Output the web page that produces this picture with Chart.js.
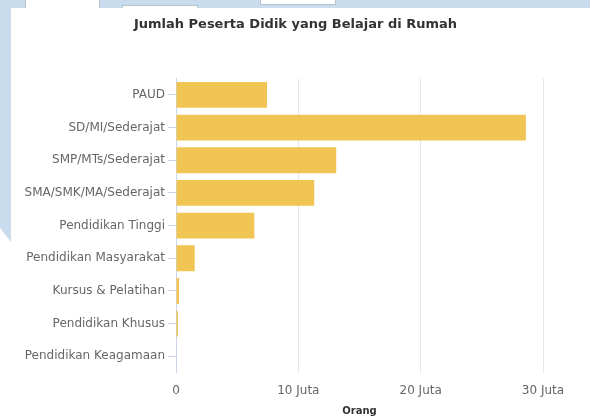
<!DOCTYPE html>
<html>
<head>
<meta charset="utf-8">
<script src="https://cdn.jsdelivr.net/npm/chart.js@4"></script>
<style>
  html, body { margin: 0; padding: 0; }
  body { width: 590px; height: 418px; background: #fff; position: relative; overflow: hidden; }
  .strip-top { position: absolute; left: 0; top: 0; width: 590px; height: 8px; background: #c8dcee; }
  .strip-left { position: absolute; left: 0; top: 0; width: 11px; height: 242px; background: #c8dcee;
                clip-path: polygon(0 0, 11px 0, 11px 242px, 0 228px); }
  .tab { position: absolute; background: #fff; border: 1px solid #b9c3cc; box-sizing: border-box; }
  .card { position: absolute; left: 11px; top: 8px; width: 579px; height: 410px; background: #fff; }
</style>
</head>
<body>
<div class="strip-top"></div>
<div class="strip-left"></div>
<div class="tab" style="left:25px;top:-1px;width:75px;height:10px;"></div>
<div class="tab" style="left:122px;top:5px;width:76px;height:6px;"></div>
<div class="tab" style="left:260px;top:-1px;width:76px;height:6px;"></div>
<div class="card"><canvas id="myChart"></canvas></div>
<script>
const categories = [
    'PAUD',
    'SD/MI/Sederajat',
    'SMP/MTs/Sederajat',
    'SMA/SMK/MA/Sederajat',
    'Pendidikan Tinggi',
    'Pendidikan Masyarakat',
    'Kursus & Pelatihan',
    'Pendidikan Khusus',
    'Pendidikan Keagamaan',
];
const pesertaDidik = [7440000, 28600000, 13100000, 11300000, 6400000, 1530000, 250000, 160000, 40000];
const xTicks = [0, 10000000, 20000000, 30000000];

Chart.defaults.font.family = "'DejaVu Sans', Verdana, sans-serif";

const config = {
    type: 'bar',
    data: {
        labels: categories,
        datasets: [
            {
                label: 'Peserta Didik',
                data: pesertaDidik,
                backgroundColor: '#f0c553',
                borderWidth: 0,
                barPercentage: 0.79,
                categoryPercentage: 1,
            },
        ],
    },
    options: {
        indexAxis: 'y',
        responsive: true,
        maintainAspectRatio: false,
        animation: false,
        layout: { padding: { left: 0, right: 10, top: 0, bottom: 0 } },
        plugins: {
            legend: { display: false },
            title: {
                display: true,
                text: 'Jumlah Peserta Didik yang Belajar di Rumah',
                color: '#333',
                font: { size: 13, weight: 'bold' },
                padding: { top: 9, bottom: 46 },
            },
        },
        scales: {
            x: {
                min: 0,
                max: 30000000,
                afterBuildTicks: function (scale) {
                    scale.ticks = xTicks.map(function (v) { return { value: v }; });
                },
                ticks: {
                    color: '#666',
                    font: { size: 12 },
                    padding: 11,
                    maxRotation: 0,
                    // tampilkan dalam juta
                    callback: function (value) {
                        return value === 0 ? '0' : value / 1000000 + ' Juta';
                    },
                },
                grid: { color: '#e6e6e6', drawTicks: false },
                border: { display: false },
                title: {
                    display: true,
                    text: 'Orang',
                    color: '#333',
                    font: { size: 10, weight: 'bold' },
                    padding: { top: -4, bottom: 1 },
                },
            },
            y: {
                ticks: { color: '#666', font: { size: 12 }, padding: 3 },
                grid: { drawOnChartArea: false, offset: false, color: '#ccd6eb', tickLength: 8 },
                border: { color: '#ccd6eb' },
                afterFit: function (scale) { scale.width = 165; },
            },
            y2: {
                type: 'linear',
                position: 'right',
                ticks: { display: false },
                grid: { display: false },
                border: { display: false },
                afterFit: function (scale) { scale.width = 37; },
            },
        },
    },
};
const myChart = new Chart(document.getElementById('myChart'), config);
</script>
</body>
</html>
